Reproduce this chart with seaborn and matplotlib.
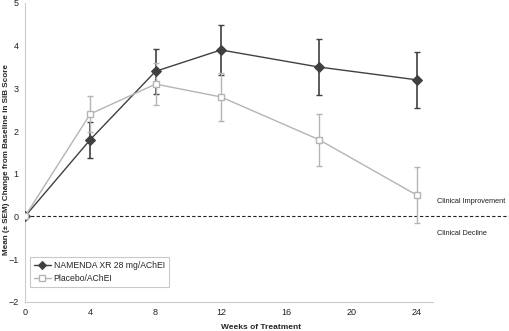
import matplotlib
matplotlib.use("Agg")
import matplotlib.pyplot as plt
import seaborn as sns
import pandas as pd

weeks = [0, 4, 8, 12, 18, 24]
namenda_mean = [0.0, 1.8, 3.4, 3.9, 3.5, 3.2]
namenda_sem = [0.0, 0.42, 0.52, 0.58, 0.65, 0.66]
placebo_mean = [0.0, 2.4, 3.1, 2.8, 1.8, 0.5]
placebo_sem = [0.0, 0.43, 0.5, 0.56, 0.61, 0.65]
series_names = ["NAMENDA XR 28 mg/AChEI", "Placebo/AChEI"]
x_ticks = [0, 4, 8, 12, 16, 20, 24]
y_ticks = [-2, -1, 0, 1, 2, 3, 4, 5]

sns.set_style("white")
plt.rcParams["font.family"] = ["Liberation Sans", "DejaVu Sans"]

df = pd.DataFrame({
    "week": weeks * 2,
    "mean": namenda_mean + placebo_mean,
    "sem": namenda_sem + placebo_sem,
    "group": [series_names[0]] * len(weeks) + [series_names[1]] * len(weeks),
})

dark = "#404040"
light = "#b4b4b4"

fig = plt.figure(figsize=(5.09, 3.31), dpi=100)
ax = fig.add_axes([0.049, 0.088, 0.802, 0.903])

# error bars first so markers sit on top
for name, color in zip(series_names, [dark, light]):
    sub = df[df["group"] == name]
    ax.errorbar(sub["week"], sub["mean"], yerr=sub["sem"], fmt="none",
                ecolor=color, elinewidth=1.2 if color == dark else 1.0,
                capsize=2, capthick=1.0, zorder=2)

sns.lineplot(data=df, x="week", y="mean", hue="group", style="group",
             hue_order=series_names, style_order=series_names,
             palette=[dark, light], markers=["D", "s"], dashes=False,
             linewidth=1.0, markersize=6, ax=ax, zorder=3)

# style markers: filled diamond vs open square
for ln in ax.get_lines():
    if ln.get_marker() == "s":
        ln.set_markerfacecolor("white")
        ln.set_markeredgecolor(light)
        ln.set_markeredgewidth(1.0)
        ln.set_markersize(5)
    elif ln.get_marker() == "D":
        ln.set_markerfacecolor(dark)
        ln.set_markeredgecolor(dark)
        ln.set_markersize(5)

# zero reference line extending past the plot area
ax.axhline(0, xmin=0, xmax=1.19, color="#222222", linestyle=(0, (3, 2)),
           linewidth=0.8, clip_on=False, zorder=1)

ax.set_xlim(0, 25)
ax.set_ylim(-2, 5)
ax.set_xticks(x_ticks)
ax.set_yticks(y_ticks)
ax.tick_params(axis="both", labelsize=6.5, colors="#c8c8c8", labelcolor="#222222",
               length=3, width=0.8, direction="inout", pad=3)
for side in ["top", "right"]:
    ax.spines[side].set_visible(False)
for side in ["left", "bottom"]:
    ax.spines[side].set_color("#cccccc")
    ax.spines[side].set_linewidth(0.8)

ax.set_xlabel("Weeks of Treatment", fontsize=6, fontweight="bold")
ax.set_ylabel("Mean (± SEM) Change from Baseline in SIB Score", fontsize=5.9,
              fontweight="bold")
ax.xaxis.set_label_coords(0.578, -0.075)
ax.yaxis.set_label_coords(-0.036, 0.478)

ax.text(25.25, 0.35, "Clinical Improvement", fontsize=5.3, color="#222222",
        va="center", ha="left", clip_on=False)
ax.text(25.25, -0.4, "Clinical Decline", fontsize=5.3, color="#222222",
        va="center", ha="left", clip_on=False)

handles, labels = ax.get_legend_handles_labels()
leg = ax.legend(handles, labels, loc="lower left", bbox_to_anchor=(0.012, 0.05),
                fontsize=6.2, frameon=True, fancybox=False, borderpad=0.45,
                handlelength=2.0, handletextpad=0.3, labelspacing=0.45,
                borderaxespad=0)
leg.get_frame().set_edgecolor("#bbbbbb")
leg.get_frame().set_linewidth(0.8)
for lh in leg.get_lines():
    if lh.get_marker() == "s":
        lh.set_markerfacecolor("white")
        lh.set_markeredgecolor(light)
    lh.set_markersize(4.5)

fig.savefig("out.png", dpi=100, facecolor="white")
